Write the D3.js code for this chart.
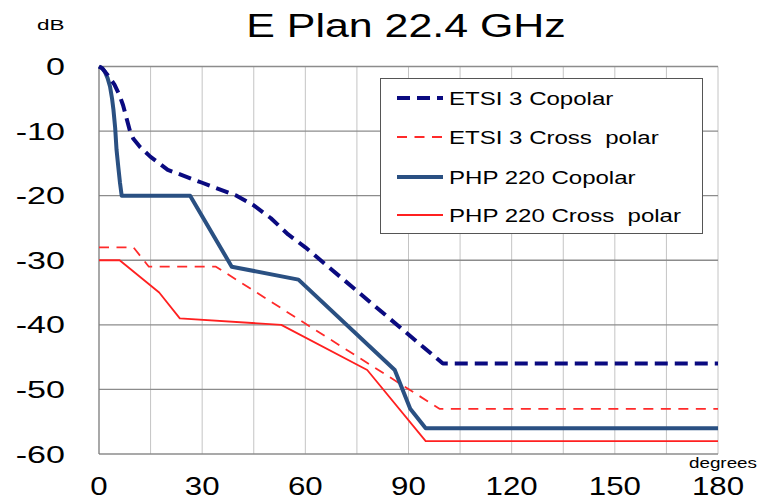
<!DOCTYPE html>
<html>
<head>
<meta charset="utf-8">
<script src="https://cdn.jsdelivr.net/npm/d3@7"></script>
<style>
  body { margin: 0; background: #fff; }
  text { font-family: "Liberation Sans", Arial, sans-serif; fill: #000; }
</style>
</head>
<body>
<div id="chart"></div>
<script>
// series values, [degrees, dB]
var etsiCopolar = [[0,0],[1,-0.3],[2.5,-1.3],[4.5,-2.8],[6,-4.5],[7,-6],[8,-8],[9,-10],[10,-11.2],[12,-12.5],[15,-14],[20,-16],[30,-18],[40,-20],[45,-21.5],[50,-23.5],[55,-26],[60,-28],[100,-46],[180,-46]];
var etsiCross = [[0,-28],[10,-28],[14.5,-31],[34,-31],[99,-53],[180,-53]];
var phpCopolar = [[0,0],[0.8,-0.2],[1.7,-0.8],[2.5,-1.8],[3.2,-3.1],[3.8,-5],[4.2,-6.7],[4.7,-9.5],[5.1,-12.9],[5.6,-15.5],[6.1,-18],[6.6,-20],[26.5,-20],[38.6,-31],[58,-33],[86,-47],[90.5,-53],[95,-56],[180,-56]];
var phpCross = [[0,-30],[6,-30],[17.5,-35],[23.5,-39],[53,-40],[78,-47],[95,-58],[180,-58]];

var seriesNames = ["ETSI 3 Copolar","ETSI 3 Cross  polar","PHP 220 Copolar","PHP 220 Cross  polar"];
var xTicks = [0,30,60,90,120,150,180];
var yTicks = [0,-10,-20,-30,-40,-50,-60];

var width = 759, height = 500;

var svg = d3.select("#chart").append("svg").attr("width",width).attr("height",height);

var x = d3.scaleLinear().domain([0,180]).range([99,718]);
var y = d3.scaleLinear().domain([0,-60]).range([66.5,454]);

// text in the picture is stretched sideways
function label(g, px, py, txt, size, anchor, sx){
  return g.append("text")
    .attr("transform","translate("+px+","+py+") scale("+sx+",1)")
    .style("font-size",size+"px")
    .style("text-anchor",anchor)
    .text(txt);
}

// grid
svg.append("g").selectAll("line.v")
  .data(d3.range(15,181,15))
  .enter().append("line")
    .attr("x1",d => x(d)).attr("x2",d => x(d))
    .attr("y1",y(0)).attr("y2",y(-60))
    .attr("stroke","#c4c4c4").attr("stroke-width",1);
svg.append("g").selectAll("line.h")
  .data(yTicks)
  .enter().append("line")
    .attr("x1",x(0)).attr("x2",x(180))
    .attr("y1",d => y(d)).attr("y2",d => y(d))
    .attr("stroke","#8c8c8c").attr("stroke-width",1.3);
svg.append("line")
  .attr("x1",x(0)).attr("x2",x(0)).attr("y1",y(0)).attr("y2",y(-60))
  .attr("stroke","#7a7a7a").attr("stroke-width",1.3);

// tick labels
yTicks.forEach(function(d){ label(svg, 65, y(d)+8.5, d, 23.5, "end", 1.45); });
xTicks.forEach(function(d){ label(svg, x(d), 495, d, 25, "middle", 1.25); });
label(svg, 37, 30, "dB", 15, "start", 1.5);
label(svg, 757, 468, "degrees", 14.5, "end", 1.3);
label(svg, 406, 37, "E Plan 22.4 GHz", 33, "middle", 1.3);

// lines
var line = d3.line().x(d => x(d[0])).y(d => y(d[1]));
var styles = [
  {data: etsiCross,   color:"#ff2a2a", w:1.8, dash:"10,7.5"},
  {data: phpCross,    color:"#ff2020", w:1.8, dash:null},
  {data: phpCopolar,  color:"#2a5082", w:4,   dash:null},
  {data: etsiCopolar, color:"#0a0a80", w:4,   dash:"13,7"}
];
styles.forEach(function(s){
  svg.append("path")
    .datum(s.data)
    .attr("d", line)
    .attr("fill","none")
    .attr("stroke",s.color)
    .attr("stroke-width",s.w)
    .attr("stroke-dasharray",s.dash)
    .attr("stroke-linejoin","round");
});

// legend
var legend = svg.append("g");
legend.append("rect")
  .attr("x",380.5).attr("y",78.5).attr("width",322).attr("height",155)
  .attr("fill","#fff").attr("stroke","#555").attr("stroke-width",1);
var legendStyles = [
  {color:"#0a0a80", w:4,   dash:"13,7"},
  {color:"#ff2a2a", w:1.8, dash:"10,7.5"},
  {color:"#2a5082", w:4,   dash:null},
  {color:"#ff2020", w:1.8, dash:null}
];
var legendY = [98,137,177,215];
seriesNames.forEach(function(n,i){
  legend.append("line")
    .attr("x1",397).attr("x2",443).attr("y1",legendY[i]).attr("y2",legendY[i])
    .attr("stroke",legendStyles[i].color)
    .attr("stroke-width",legendStyles[i].w)
    .attr("stroke-dasharray",legendStyles[i].dash);
  label(legend, 449, legendY[i]+7, n, 18.5, "start", 1.3).style("white-space","pre");
});
</script>
</body>
</html>
